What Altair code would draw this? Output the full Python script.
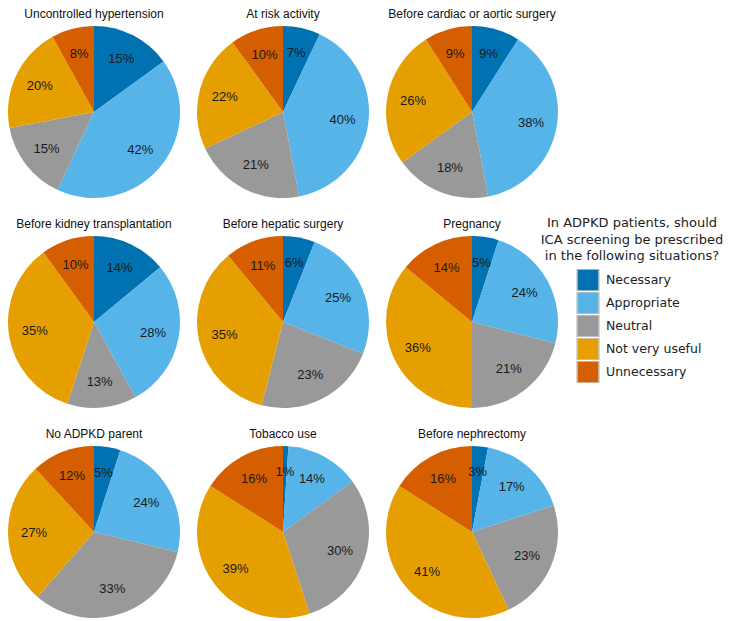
import altair as alt
import pandas as pd

situations = [
    "Uncontrolled hypertension", "At risk activity", "Before cardiac or aortic surgery",
    "Before kidney transplantation", "Before hepatic surgery", "Pregnancy",
    "No ADPKD parent", "Tobacco use", "Before nephrectomy",
]
categories = ["Necessary", "Appropriate", "Neutral", "Not very useful", "Unnecessary"]
colors = ["#0072B2", "#56B4E9", "#999999", "#E69F00", "#D55E00"]

necessary = [15, 7, 9, 14, 6, 5, 5, 1, 3]
appropriate = [42, 40, 38, 28, 25, 24, 24, 14, 17]
neutral = [15, 21, 18, 13, 23, 21, 33, 30, 23]
not_very_useful = [20, 22, 26, 35, 35, 36, 27, 39, 41]
unnecessary = [8, 10, 9, 10, 11, 14, 12, 16, 16]

series = [necessary, appropriate, neutral, not_very_useful, unnecessary]
rows = []
for si, s in enumerate(situations):
    for ci, c in enumerate(categories):
        v = series[ci][si]
        rows.append({"situation": s, "category": c, "value": v, "idx": ci, "label": f"{v}%"})
df = pd.DataFrame(rows)

base = alt.Chart(df).encode(
    theta=alt.Theta("value:Q", stack=True),
    order=alt.Order("idx:Q", sort="ascending"),
)

arcs = base.mark_arc(outerRadius=86).encode(
    color=alt.Color(
        "category:N",
        scale=alt.Scale(domain=categories, range=colors),
        sort=categories,
        legend=alt.Legend(
            title=["In ADPKD patients, should", "ICA screening be prescribed", "in the following situations?"],
            orient="none",
            legendX=533,
            legendY=191,
            titleFont="DejaVu Sans",
            titleFontSize=13,
            titleFontWeight="normal",
            titleColor="#222222",
            titleAlign="center",
            titleAnchor="middle",
            titleLineHeight=16.5,
            titleLimit=260,
            titlePadding=6,
            labelFont="DejaVu Sans",
            labelFontSize=12.5,
            labelColor="#222222",
            symbolType="square",
            symbolSize=484,
            symbolStrokeColor="#c8c8c8",
            symbolStrokeWidth=1.5,
            symbolOffset=13,
            labelOffset=6,
            clipHeight=22,
            rowPadding=1,
        ),
    ),
)

labels = base.mark_text(radius=60, font="Liberation Sans", fontSize=13, color="#1a1a1a").encode(
    text="label:N"
)

chart = alt.layer(arcs, labels).properties(width=172, height=172).facet(
    facet=alt.Facet(
        "situation:N",
        sort=situations,
        header=alt.Header(
            title=None,
            labelFont="Liberation Sans",
            labelFontSize=12,
            labelColor="#111111",
            labelPadding=5,
        ),
    ),
    columns=3,
    spacing={"row": 38, "column": 17},
    bounds="flush",
).properties(padding=0).configure_view(stroke=None)

chart.save("out.html", embed_options={"renderer": "svg", "actions": False})
